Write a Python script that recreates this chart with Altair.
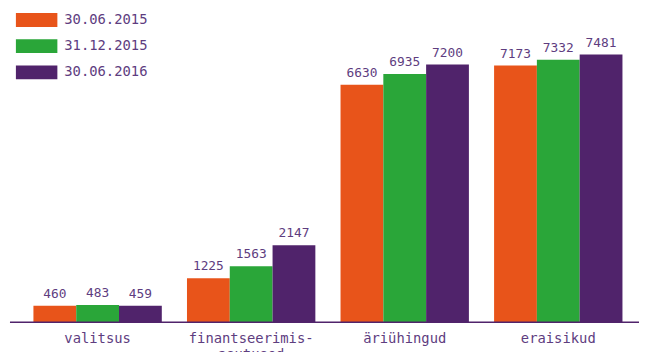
import altair as alt
import pandas as pd

categories = ["valitsus", "finantseerimis-asutused", "äriühingud", "eraisikud"]
series = ["30.06.2015", "31.12.2015", "30.06.2016"]
values_2015_06 = [460, 1225, 6630, 7173]
values_2015_12 = [483, 1563, 6935, 7332]
values_2016_06 = [459, 2147, 7200, 7481]
colors = ["#e8541a", "#2aa639", "#50236b"]

rows = []
for s, vals in zip(series, [values_2015_06, values_2015_12, values_2016_06]):
    for c, v in zip(categories, vals):
        rows.append({"sektor": c, "kuupäev": s, "väärtus": v})
df = pd.DataFrame(rows)

FONT = "DejaVu Sans Mono"
TXT = "#5e3d7f"
W, H = 637, 290

x = alt.X(
    "sektor:N",
    sort=categories,
    scale=alt.Scale(range=[11, 633], paddingInner=0.164, paddingOuter=0.082),
    axis=alt.Axis(
        title=None, domain=False, ticks=False, labelAngle=0, labelPadding=10,
        labelFontSize=14, labelFont=FONT, labelColor=TXT, labelLineHeight=16,
        labelExpr="datum.label == 'finantseerimis-asutused' ? ['finantseerimis-', 'asutused'] : datum.label",
    ),
)
xo = alt.XOffset("kuupäev:N", sort=series)
y = alt.Y("väärtus:Q", scale=alt.Scale(domain=[0, 8000]), axis=None)

base = alt.Chart(df)
bars = base.mark_bar().encode(
    x=x, xOffset=xo, y=y,
    color=alt.Color(
        "kuupäev:N", sort=series,
        scale=alt.Scale(domain=series, range=colors),
        legend=alt.Legend(
            title=None, orient="none", legendX=20, legendY=-23,
            symbolType="M-3,-1H3V1H-3Z", symbolSize=196,
            symbolStrokeWidth=0, symbolOpacity=1,
            labelFontSize=14, labelFont=FONT, labelColor=TXT,
            labelOffset=21, rowPadding=12.5, padding=0,
        ),
    ),
)
labels = base.mark_text(
    baseline="bottom", dy=-5, font=FONT, fontSize=13, color=TXT
).encode(x=x, xOffset=xo, y=y, text="väärtus:Q")

rule = alt.Chart(pd.DataFrame({"v": [0]})).mark_rule(
    color="#50236b", strokeWidth=1.5
).encode(y=alt.Y("v:Q"), x=alt.value(0), x2=alt.value(W))

chart = alt.layer(bars, labels, rule).properties(
    width=W, height=H,
    autosize=alt.AutoSizeParams(type="none"),
    padding={"left": 2, "top": 26, "right": 0, "bottom": 28},
).configure_view(stroke=None)

chart.save("out.html", embed_options={"renderer": "svg", "actions": False})
